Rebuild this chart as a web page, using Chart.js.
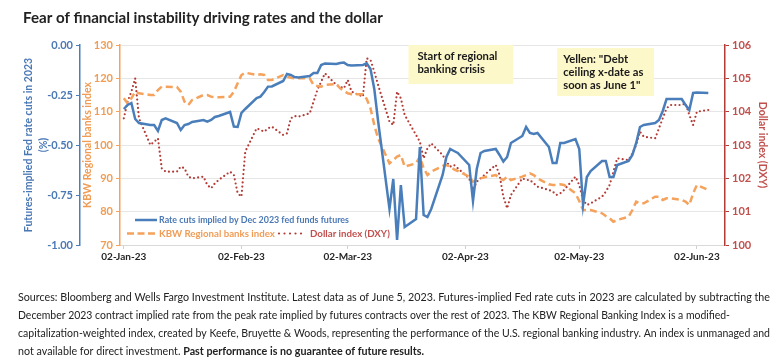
<!DOCTYPE html>
<html>
<head>
<meta charset="utf-8">
<script src="https://cdn.jsdelivr.net/npm/chart.js@4.4.0/dist/chart.umd.min.js"></script>
<style>
  html, body { margin: 0; padding: 0; background: #fff; }
  canvas { display: block; }
</style>
</head>
<body>
<canvas id="ratesChart" width="783" height="364"></canvas>
<script>
// x axis is days since 01-Jan-2023, only trading days have values
var tickDays = [1, 32, 60, 91, 121, 152];
var tickLabels = ['02-Jan-23', '02-Feb-23', '02-Mar-23', '02-Apr-23', '02-May-23', '02-Jun-23'];

var tradingDays = [
    1, 2, 3, 4, 5, 8, 9, 10, 11, 12, 15, 16, 17, 18, 19, 22, 23, 24, 25, 26, 29, 30,
    31, 32, 33, 36, 37, 38, 39, 40, 43, 44, 45, 46, 47, 50, 51, 52, 53, 54, 57, 58,
    59, 60, 61, 64, 65, 66, 67, 68, 71, 72, 73, 74, 75, 78, 79, 80, 81, 82, 85, 86, 87, 88, 89,
    92, 93, 94, 95, 96, 99, 100, 101, 102, 103, 106, 107, 108, 109, 110, 113, 114, 115, 116, 117,
    120, 121, 122, 123, 124, 127, 128, 129, 130, 131, 134, 135, 136, 137, 138, 141, 142, 143, 144, 145, 148, 149, 150,
    151, 152, 155
];

var rateCuts = [
    -0.32, -0.30, -0.29, -0.37, -0.39, -0.40, -0.40, -0.43, -0.375, -0.367, -0.39, -0.425, -0.40, -0.395, -0.385, -0.375, -0.383, -0.375, -0.36, -0.355, -0.335, -0.408,
    -0.41, -0.34, -0.32, -0.265, -0.258, -0.235, -0.208, -0.207, -0.18, -0.145, -0.15, -0.16, -0.162, -0.155, -0.14, -0.14, -0.10, -0.092, -0.095, -0.09,
    -0.088, -0.10, -0.103, -0.10, -0.092, -0.12, -0.22, -0.38, -0.82, -0.67, -0.975, -0.70, -0.91, -0.87, -0.51, -0.85, -0.86, -0.82, -0.65, -0.56, -0.52, -0.53, -0.54,
    -0.60, -0.78, -0.62, -0.54, -0.53, -0.52, -0.55, -0.583, -0.56, -0.49, -0.455, -0.41, -0.44, -0.445, -0.44, -0.51, -0.59, -0.59, -0.49, -0.49,
    -0.47, -0.52, -0.80, -0.66, -0.63, -0.58, -0.58, -0.66, -0.66, -0.60, -0.58, -0.55, -0.49, -0.41, -0.40, -0.39, -0.375, -0.33, -0.27, -0.27, -0.27, -0.30, -0.325,
    -0.24, -0.238, -0.24
];

var kbwIndex = [
    114, 112.5, 114, 116, 115.5, 115, 115, 116.5, 117.5, 117.5, 117.4, 116, 113, 112, 113.5, 115, 115, 114.5, 114.3, 114.3, 114.5, 116,
    118.5, 121, 121.7, 121, 121.2, 121, 119.5, 119.5, 121, 120.5, 120.2, 120, 120, 120, 118, 117.7, 117.5, 118, 118.3, 117,
    116.3, 115.5, 115.2, 115.2, 113.8, 111, 106, 102, 94.5, 95.5, 96.5, 97, 93.5, 94.5, 96.5, 93, 91, 92, 93.7, 94, 93.5, 92.7, 92.2,
    90.5, 89, 89.5, 90, 90.3, 91, 90, 89.5, 90.5, 89.5, 90.5, 91, 91.5, 91, 90, 88.2, 88, 88, 88.2, 88,
    85.5, 83.2, 80.5, 80.5, 80.5, 79.5, 78.7, 78, 77, 77.5, 78.5, 80.5, 83, 82.5, 82.5, 84.5, 84.5, 83.5, 84, 84, 83.5, 83, 82,
    85.5, 88, 86.5
];

var dollarIndex = [
    103.8, 104.3, 104.6, 105.0, 103.8, 103.0, 103.1, 103.2, 102.3, 102.2, 102.2, 102.35, 102.3, 102.05, 102.0, 102.05, 101.8, 101.7, 101.85, 101.95, 102.2, 102.1,
    101.55, 101.45, 102.8, 103.5, 103.45, 103.4, 103.5, 103.55, 103.3, 103.35, 103.8, 103.87, 103.85, 103.95, 104.3, 104.65, 104.9, 105.15, 104.8, 104.75,
    104.7, 104.95, 104.6, 104.45, 105.6, 105.55, 105.2, 104.8, 103.7, 103.6, 104.6, 104.4, 103.9, 103.3, 103.1, 102.6, 102.9, 103.05, 102.7, 102.5, 102.35, 102.4, 102.3,
    102.0, 101.65, 101.9, 102.0, 102.1, 102.4, 102.1, 101.45, 101.1, 101.5, 102.0, 101.95, 101.95, 101.85, 101.75, 101.65, 101.6, 101.5, 101.55, 101.65,
    102.05, 101.8, 101.35, 101.2, 101.25, 101.45, 101.6, 101.8, 102.2, 102.6, 102.55, 102.75, 103.0, 103.4, 103.25, 103.2, 103.5, 103.8, 104.1, 104.2, 104.2, 104.25, 103.9,
    103.6, 104.0, 104.05
];

var BLUE = '#4a7ebb', ORANGE = '#f5a25c', RED = '#b23b36';
var BLUE_TXT = '#4a78b5', ORANGE_TXT = '#f09c55', RED_TXT = '#c0504d';
var FONT = 'Lato';

var notes = [
    { from: 76, to: 103.6, top: 130, bottom: 118.3, dx: 9, lines: ['Start of regional', 'banking crisis'] },
    { from: 115.2, to: 140.7, top: 129.1, bottom: 114.7, dx: 6, lines: ['Yellen: "Debt', 'ceiling x-date as', 'soon as June 1"'] }
];

var footnote = [
    { w: 752, parts: [['Sources: Bloomberg and Wells Fargo Investment Institute. Latest data as of June 5, 2023. Futures-implied Fed rate cuts in 2023 are calculated by subtracting the', false]] },
    { w: 712, parts: [['December 2023 contract implied rate from the peak rate implied by futures contracts over the rest of 2023. The KBW Regional Banking Index is a modified-', false]] },
    { w: 752, parts: [['capitalization-weighted index, created by Keefe, Bruyette & Woods, representing the performance of the U.S. regional banking industry. An index is unmanaged and', false]] },
    { w: 406, parts: [['not available for direct investment. ', false], ['Past performance is no guarantee of future results.', true]] }
];

function series(values) {
    return values.map(function (v, i) { return { x: tradingDays[i], y: v }; });
}

// pick a font size so the text gets a given width
function fitFont(ctx, text, weight, width) {
    ctx.font = weight + ' 10px ' + FONT;
    var size = 10 * width / ctx.measureText(text).width;
    ctx.font = weight + ' ' + size.toFixed(2) + 'px ' + FONT;
    return size;
}

function drawSample(ctx, x1, x2, y, color, width, dash, cap) {
    ctx.save();
    ctx.strokeStyle = color;
    ctx.lineWidth = width;
    ctx.setLineDash(dash);
    ctx.lineCap = cap;
    ctx.beginPath();
    ctx.moveTo(x1, y);
    ctx.lineTo(x2, y);
    ctx.stroke();
    ctx.restore();
}

var extras = {
    id: 'extras',
    beforeDatasetsDraw: function (chart) {
        var ctx = chart.ctx, xs = chart.scales.x, ys = chart.scales.yKbw;
        ctx.save();
        fitFont(ctx, 'Start of regional', 'bold', 80);
        ctx.textBaseline = 'middle';
        notes.forEach(function (n) {
            var l = xs.getPixelForValue(n.from), r = xs.getPixelForValue(n.to);
            var t = ys.getPixelForValue(n.top), b = ys.getPixelForValue(n.bottom);
            ctx.fillStyle = '#fdf8c9';
            ctx.fillRect(l, t, r - l, b - t);
            ctx.fillStyle = '#1a1a1a';
            n.lines.forEach(function (s, i) {
                ctx.fillText(s, l + n.dx, t + 11 + i * 13.3);
            });
        });
        ctx.restore();
    },
    afterDatasetsDraw: function (chart) {
        var ctx = chart.ctx, a = chart.chartArea;
        var ds = chart.data.datasets;
        var r1 = a.bottom - 25, r2 = a.bottom - 11.5;
        ctx.save();
        ctx.textBaseline = 'middle';
        drawSample(ctx, a.left + 15, a.left + 37, r1, BLUE, 2.5, [], 'butt');
        fitFont(ctx, ds[0].label, 'bold', 190);
        ctx.fillStyle = BLUE_TXT;
        ctx.fillText(ds[0].label, a.left + 39, r1);
        drawSample(ctx, a.left + 7, a.left + 35, r2, ORANGE, 2.5, [7, 3.5], 'butt');
        fitFont(ctx, ds[1].label, 'bold', 116);
        ctx.fillStyle = ORANGE_TXT;
        ctx.fillText(ds[1].label, a.left + 39, r2);
        drawSample(ctx, a.left + 159, a.left + 186, r2, RED, 2.2, [0, 5.5], 'round');
        fitFont(ctx, ds[2].label, 'bold', 80);
        ctx.fillStyle = RED_TXT;
        ctx.fillText(ds[2].label, a.left + 190, r2);
        ctx.restore();
    },
    afterDraw: function (chart) {
        var ctx = chart.ctx;
        var title = 'Fear of financial instability driving rates and the dollar';
        ctx.save();
        ctx.fillStyle = '#222';
        ctx.textBaseline = 'middle';
        fitFont(ctx, title, 'bold', 360);
        ctx.fillText(title, 23, 18);

        footnote.forEach(function (line, i) {
            var total = 0;
            line.parts.forEach(function (p) {
                ctx.font = (p[1] ? 'bold ' : '') + '11.5px ' + FONT;
                total += ctx.measureText(p[0]).width;
            });
            var sx = line.w / total;
            ctx.save();
            ctx.translate(18, 297 + i * 18);
            ctx.scale(sx, 1);
            var cx = 0;
            line.parts.forEach(function (p) {
                ctx.font = (p[1] ? 'bold ' : '') + '11.5px ' + FONT;
                ctx.fillText(p[0], cx, 0);
                cx += ctx.measureText(p[0]).width;
            });
            ctx.restore();
        });
        ctx.restore();
    }
};

var tickFont = { family: FONT, size: 11, weight: 'bold' };
var titleFont = { family: FONT, size: 10.5, weight: 'bold', lineHeight: 1.35 };

var chart1 = document.getElementById('ratesChart');
var myChart1 = new Chart(chart1, {
    type: 'line',
    data: {
        datasets: [{
            label: 'Rate cuts implied by Dec 2023 fed funds futures',
            data: series(rateCuts),
            yAxisID: 'yCuts',
            borderColor: BLUE,
            borderWidth: 2.5,
            pointRadius: 0,
            tension: 0
        }, {
            label: 'KBW Regional banks index',
            data: series(kbwIndex),
            yAxisID: 'yKbw',
            borderColor: ORANGE,
            borderWidth: 2.5,
            borderDash: [7, 4],
            pointRadius: 0,
            tension: 0
        }, {
            label: 'Dollar index (DXY)',
            data: series(dollarIndex),
            yAxisID: 'yDxy',
            borderColor: RED,
            borderWidth: 2.2,
            borderDash: [0, 4.2],
            borderCapStyle: 'round',
            pointRadius: 0,
            tension: 0
        }]
    },
    options: {
        responsive: false,
        animation: false,
        layout: { padding: { top: 45, bottom: 99, left: 0, right: 0 } },
        plugins: { legend: { display: false }, tooltip: { enabled: false } },
        scales: {
            x: {
                type: 'linear',
                min: 0,
                max: 159.4,
                afterBuildTicks: function (s) {
                    s.ticks = tickDays.map(function (d) { return { value: d }; });
                },
                afterFit: function (s) { s.height = 20; },
                ticks: {
                    autoSkip: false,
                    maxRotation: 0,
                    padding: 2,
                    color: '#262626',
                    font: { family: FONT, size: 10, weight: 'bold' },
                    callback: function (v) { return tickLabels[tickDays.indexOf(v)]; }
                },
                grid: { drawOnChartArea: false, tickLength: 4, color: '#d0d0d0' },
                border: { color: '#d9d9d9' }
            },
            yKbw: {
                position: 'left',
                weight: 0,
                min: 70,
                max: 130,
                afterFit: function (s) { s.width = 40; },
                ticks: { stepSize: 10, color: ORANGE_TXT, font: tickFont, padding: 3 },
                grid: { color: '#e6e6e6', tickColor: ORANGE, tickLength: 4 },
                border: { color: ORANGE, width: 1.5 },
                title: { display: true, text: 'KBW Regional banks index', color: ORANGE_TXT, font: titleFont, padding: { top: 1, bottom: 0 } }
            },
            yCuts: {
                position: 'left',
                weight: 1,
                min: -1,
                max: 0,
                afterFit: function (s) { s.width = 80; },
                ticks: { stepSize: 0.25, color: BLUE_TXT, font: tickFont, padding: 3,
                    callback: function (v) { return v.toFixed(2); } },
                grid: { drawOnChartArea: false, tickColor: BLUE, tickLength: 4 },
                border: { color: BLUE, width: 1.5 },
                title: { display: true, text: ['Futures-implied Fed rate cuts in 2023', '(%)'], color: BLUE_TXT, font: titleFont, padding: { top: 22, bottom: 0 } }
            },
            yDxy: {
                position: 'right',
                min: 100,
                max: 106,
                afterFit: function (s) { s.width = 58; },
                ticks: { stepSize: 1, color: RED_TXT, font: tickFont, padding: 3 },
                grid: { drawOnChartArea: false, tickColor: RED, tickLength: 4 },
                border: { color: RED, width: 1.5 },
                title: { display: true, text: 'Dollar index (DXY)', color: RED_TXT, font: titleFont, padding: { top: 14, bottom: 0 } }
            }
        }
    },
    plugins: [extras]
});
</script>
</body>
</html>
